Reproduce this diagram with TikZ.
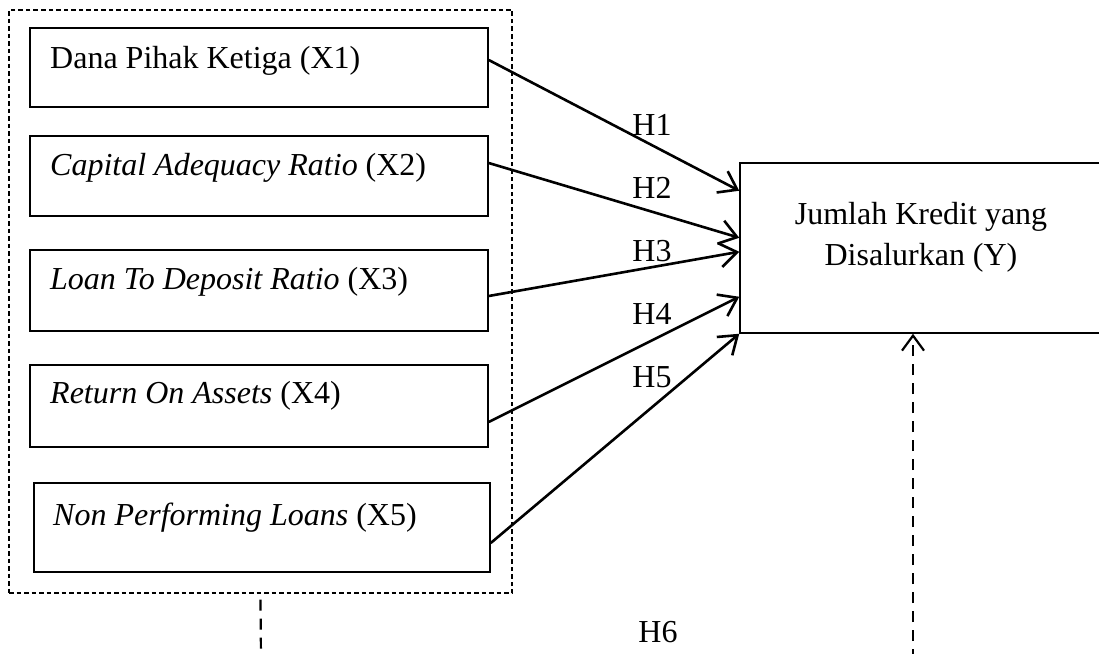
\documentclass[tikz,border=0pt]{standalone}
\usepackage{fontspec}
\setmainfont{Liberation Serif}
\usetikzlibrary{arrows.meta}
\begin{document}
\begin{tikzpicture}[x=1pt,y=-1pt,
  font=\fontsize{32}{41}\selectfont,
  xbox/.style={draw, line width=1.5pt, rectangle, inner sep=0pt},
  grpbox/.style={draw, line width=1.3pt, dash pattern=on 4.5pt off 3pt, rectangle, inner sep=0pt},
  lbl/.style={inner sep=0pt, anchor=west},
  hlab/.style={inner sep=0pt},
  rel/.style={line width=2.6pt, -{Straight Barb[length=17pt,width=24pt]}},
  link/.style={line width=2.2pt, dash pattern=on 11pt off 8pt},
]
\useasboundingbox (0,0) rectangle (1099,653);
% group box
\node[grpbox, minimum width=503pt, minimum height=583pt] (grp) at (260.5,301.5) {};
% independent variable boxes
\node[xbox, minimum width=458pt, minimum height=79pt] (x1) at (259,67.5) {};
\node[xbox, minimum width=458pt, minimum height=80pt] (x2) at (259,176) {};
\node[xbox, minimum width=458pt, minimum height=81pt] (x3) at (259,290.5) {};
\node[xbox, minimum width=458pt, minimum height=82pt] (x4) at (259,406) {};
\node[xbox, minimum width=456pt, minimum height=89pt] (x5) at (262,527.5) {};
\node[lbl] (t1) at (50,61) {Dana Pihak Ketiga (X1)};
\node[lbl] (t2) at (50,168) {\textit{Capital Adequacy Ratio} (X2)};
\node[lbl] (t3) at (50,282) {\textit{Loan To Deposit Ratio} (X3)};
\node[lbl] (t4) at (50,396) {\textit{Return On Assets} (X4)};
\node[lbl] (t5) at (53,518) {\textit{Non Performing Loans} (X5)};
% dependent variable box
\node[xbox, minimum width=370pt, minimum height=170pt] (yb) at (925,248) {};
\node[inner sep=0pt, align=center] (yt) at (921,237) {Jumlah Kredit yang\\Disalurkan (Y)};
% hypotheses arrows
\draw[rel] ([yshift=7.5pt]x1.east) -- ([yshift=143pt]yb.south west);
\draw[rel] ([yshift=13pt]x2.east) -- ([yshift=96pt]yb.south west);
\draw[rel] ([yshift=-5.5pt]x3.east) -- ([yshift=82pt]yb.south west);
\draw[rel] ([yshift=-16pt]x4.east) -- ([yshift=37pt]yb.south west);
\draw[rel] ([yshift=-15.5pt]x5.east) -- (yb.south west);
\node[hlab] (h1) at (652,125) {H1};
\node[hlab] (h2) at (652,188) {H2};
\node[hlab] (h3) at (652,251) {H3};
\node[hlab] (h4) at (652,314) {H4};
\node[hlab] (h5) at (652,377) {H5};
\node[hlab] (h6) at (658,632) {H6};
% dashed links
\coordinate (d1) at (261,660);
\coordinate (d2) at (913,660);
\draw[link] ([yshift=-6pt]grp.south) -- (d1);
\draw[link, -{Straight Barb[length=15pt,width=22pt]}] (d2) -- (d2 |- yb.south);
\end{tikzpicture}
\end{document}
